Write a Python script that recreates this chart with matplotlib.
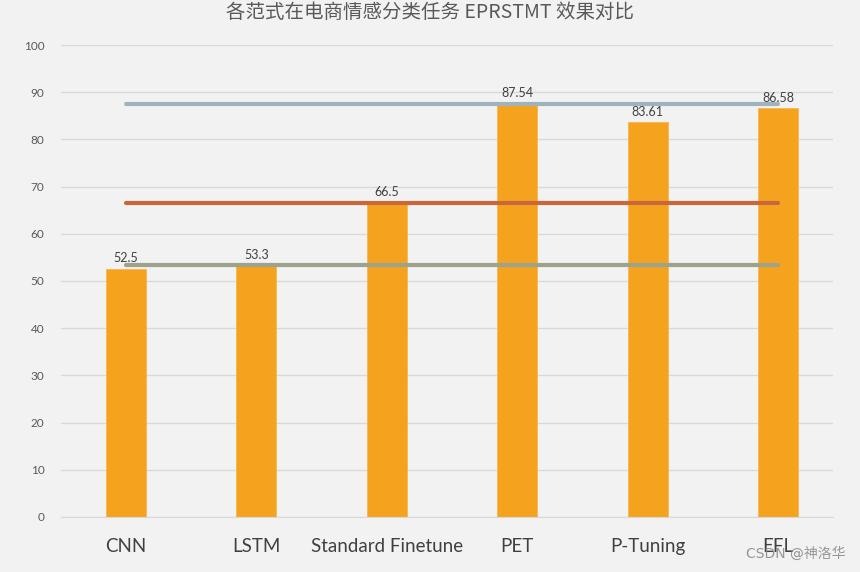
import matplotlib
matplotlib.use("Agg")
import matplotlib.pyplot as plt

categories = ["CNN", "LSTM", "Standard Finetune", "PET", "P-Tuning", "EFL"]
scores = [52.5, 53.3, 66.5, 87.54, 83.61, 86.58]
score_labels = ["52.5", "53.3", "66.5", "87.54", "83.61", "86.58"]
ref_levels = [87.54, 66.5, 53.3]
ref_colors = ["#a0b2ba", "#c9673a", "#9ca38a"]
yticks = list(range(0, 101, 10))

plt.rcParams['font.family'] = ['Lato', 'Noto Sans CJK SC', 'DejaVu Sans']

fig = plt.figure(figsize=(8.6, 5.72), dpi=100)
fig.patch.set_facecolor("#f2f2f2")
ax = fig.add_axes([0.071, 0.0962, 0.8976, 0.8251])
ax.set_facecolor("#f2f2f2")

x = list(range(len(categories)))
ax.bar(x, scores, width=0.307, color="#f5a31f", edgecolor="#f7b552", linewidth=0.6, zorder=2)
for lvl, c in zip(ref_levels, ref_colors):
    ax.plot([x[0], x[-1]], [lvl, lvl], color=c, lw=3, solid_capstyle="round", zorder=3)

for xi, v, t in zip(x, scores, score_labels):
    ax.text(xi, v + 1.0, t, ha="center", va="bottom", fontsize=9, color="#404040", zorder=4)

ax.set_xlim(-0.498, 5.422)
ax.set_ylim(0, 100)
ax.set_yticks(yticks)
ax.set_yticklabels([str(t) for t in yticks], fontsize=8.5, color="#595959")
ax.set_xticks(x)
ax.set_xticklabels(categories, fontsize=13.5, color="#404040")
ax.tick_params(axis="both", length=0)
ax.tick_params(axis="x", pad=15)
ax.tick_params(axis="y", pad=12)
ax.grid(axis="y", color="#d9d9d9", lw=1, zorder=0)
ax.set_axisbelow(True)
for s in ["top", "right", "left"]:
    ax.spines[s].set_visible(False)
ax.spines["bottom"].set_color("#d9d9d9")

fig.text(0.5, 0.978, "各范式在电商情感分类任务 EPRSTMT 效果对比", ha="center", va="center",
         fontsize=14, color="#595959", family=['Noto Sans CJK SC', 'DejaVu Sans'])
fig.text(0.983, 0.032, "CSDN @神洛华", ha="right", va="center", fontsize=10,
         color="#8c8c8c", family=['DejaVu Sans', 'Noto Sans CJK SC'], alpha=0.9)

fig.savefig("out.png", dpi=100, facecolor=fig.get_facecolor())
